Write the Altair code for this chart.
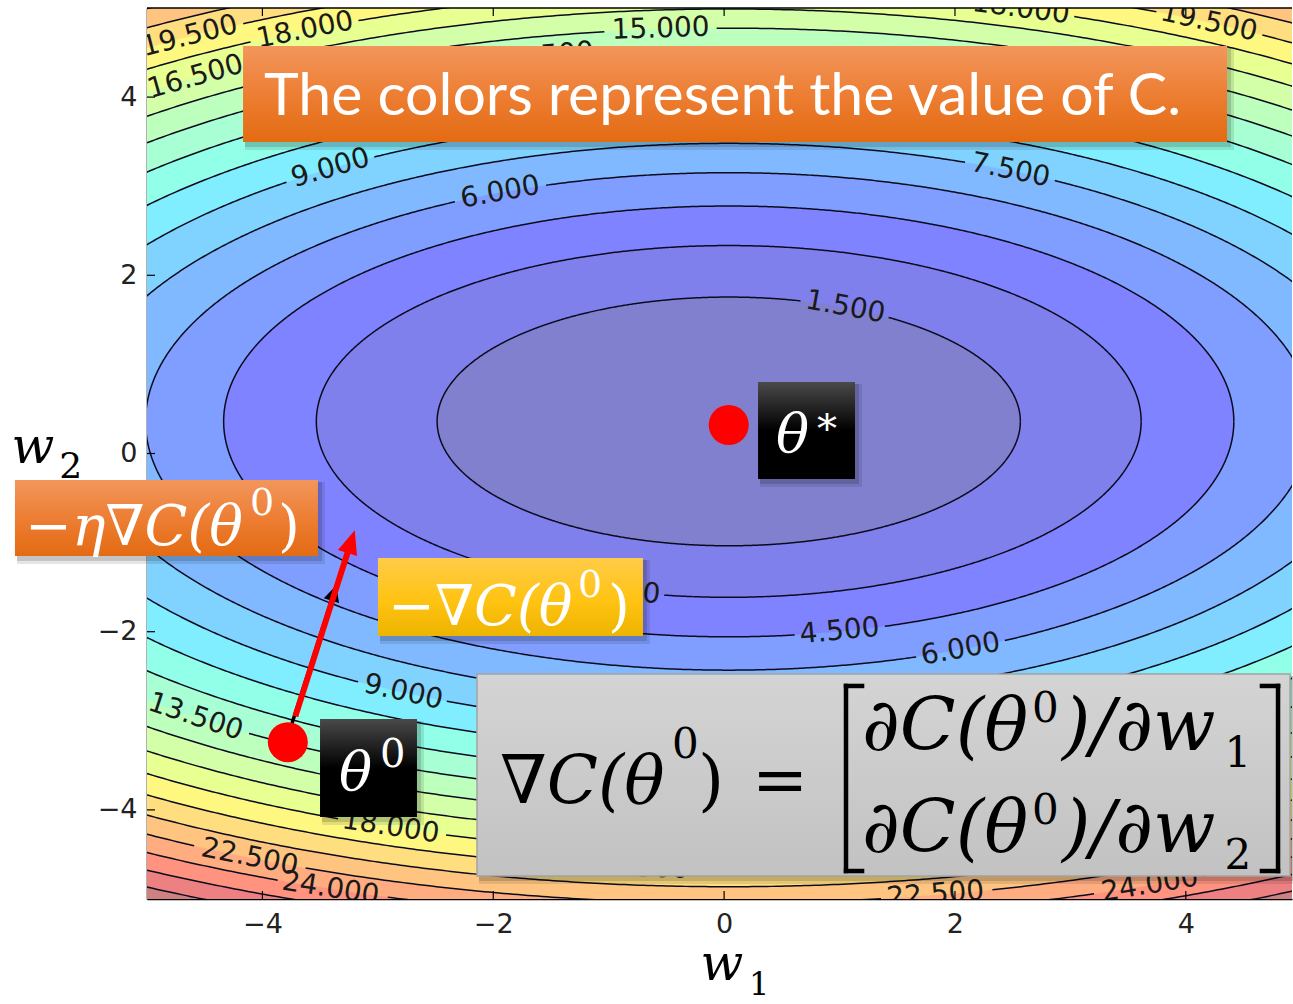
import math
import numpy as np
import pandas as pd
import altair as alt

# Cost surface shown as contours: C(w1, w2) = K1*(w1 - M1)**2 + K2*(w2 - M2)**2
K1, K2 = 0.235, 0.77
M1, M2 = 0.04, 0.36
levels = [1.5, 3.0, 4.5, 6.0, 7.5, 9.0, 10.5, 12.0, 13.5, 15.0, 16.5, 18.0,
          19.5, 21.0, 22.5, 24.0, 25.5, 27.0, 28.5]

# inline contour labels: level, w1 of the label centre, which half of the ring
label_level = [19.5, 18.0, 16.5, 15.0, 13.5, 18.0, 19.5, 9.0, 6.0, 7.5, 1.5,
               3.0, 4.5, 6.0, 9.0, 13.5, 18.0, 22.5, 24.0, 19.5, 22.5, 24.0]
label_w1 = [-4.63, -3.63, -4.58, -0.55, -1.55, 2.57, 4.20, -3.41, -1.94, 2.48, 1.05,
            -0.90, 1.00, 2.05, -2.78, -4.58, -2.89, -4.11, -3.41, -0.73, 1.83, 3.69]
label_half = ["upper"] * 11 + ["lower"] * 11

# points of interest (w1, w2)
theta_star = (0.04, 0.32)
theta_zero = (-3.78, -3.24)
grad_start = (-3.744, -3.03)
grad_tip = (-3.36, -1.48)       # -grad C(theta0)
step_start = (-3.715, -2.95)
eta_grad_tip = (-3.20, -0.86)   # -eta * grad C(theta0)

ticks = [-4, -2, 0, 2, 4]

# ---------------------------------------------------------------- layout
X_DOMAIN = [-5.0, 4.92]
Y_DOMAIN = [-5.0, 5.0]
W, H = 1145, 891
SX = W / (X_DOMAIN[1] - X_DOMAIN[0])
SY = H / (Y_DOMAIN[1] - Y_DOMAIN[0])
XS = alt.Scale(domain=X_DOMAIN, nice=False, zero=False)
YS = alt.Scale(domain=Y_DOMAIN, nice=False, zero=False)
SERIF = "DejaVu Serif"
SANS = "DejaVu Sans"

X_AXIS = alt.Axis(values=ticks, ticks=False, grid=False, domainColor="#000000",
                  domainWidth=1.6, labelFont=SANS, labelFontSize=27, labelColor="#222222",
                  labelPadding=12, labelFlush=False, labelOverlap=False, title=None)
Y_AXIS = alt.Axis(values=ticks, ticks=False, grid=False, domainColor="#000000",
                  domainWidth=1.6, labelFont=SANS, labelFontSize=27, labelColor="#222222",
                  labelPadding=10, labelFlush=False, labelOverlap=False, title=None)


def xq(field):
    return alt.X(field, type="quantitative", scale=XS, axis=X_AXIS, title=None)


def yq(field):
    return alt.Y(field, type="quantitative", scale=YS, axis=Y_AXIS, title=None)


def to_px(w1, w2):
    return (w1 - X_DOMAIN[0]) * SX, (Y_DOMAIN[1] - w2) * SY


def jet_wash(t):
    """jet colour at t, washed 50% towards white."""
    r = np.interp(t, [0, 0.35, 0.66, 0.89, 1], [0, 0, 1, 1, 0.5])
    g = np.interp(t, [0, 0.125, 0.375, 0.64, 0.91, 1], [0, 0, 1, 1, 0, 0])
    b = np.interp(t, [0, 0.11, 0.34, 0.65, 1], [0.5, 1, 1, 0, 0])
    return "#%02x%02x%02x" % tuple(int(round(255 * (0.5 * c + 0.5))) for c in (r, g, b))


layers = []

# ---------------------------------------------------------------- filled bands
top_level = levels[-1]
for k in range(len(levels) - 1, -1, -1):
    L = levels[k]
    lo = levels[k - 1] if k > 0 else 0.0
    ra, rb = math.sqrt(L / K1), math.sqrt(L / K2)
    t = np.linspace(math.pi, 0, 361)
    band = pd.DataFrame({"w1": M1 + ra * np.cos(t),
                         "top": M2 + rb * np.sin(t),
                         "bot": M2 - rb * np.sin(t)})
    layers.append(
        alt.Chart(band).mark_area(color=jet_wash((lo + L) / 2 / top_level), clip=True)
        .encode(x=xq("w1"), y=yq("top"), y2="bot:Q")
    )

# ---------------------------------------------------------------- contour labels
lab_rows = []
for L, w1, half in zip(label_level, label_w1, label_half):
    ra, rb = math.sqrt(L / K1), math.sqrt(L / K2)
    ct = (w1 - M1) / ra
    st = math.sqrt(max(0.0, 1 - ct * ct)) * (1 if half == "upper" else -1)
    w2 = M2 + rb * st
    dpx = -ra * st * SX
    dpy = -(rb * ct) * SY
    ang = math.degrees(math.atan2(dpy, dpx))
    if ang > 90:
        ang -= 180
    if ang <= -90:
        ang += 180
    text = f"{L:.3f}"
    width = (sum(ch.isdigit() for ch in text) * 0.636 + 0.318) * 28
    px, py = to_px(w1, w2)
    lab_rows.append({"level": L, "w1": w1, "w2": w2, "text": text,
                     "ang": ang % 360, "px": px, "py": py, "gap": width / 2 + 4})
labels_df = pd.DataFrame(lab_rows)

# ---------------------------------------------------------------- contour lines
line_rows = []
for L in levels:
    ra, rb = math.sqrt(L / K1), math.sqrt(L / K2)
    t = np.linspace(0, 2 * math.pi, 1441)
    w1 = M1 + ra * np.cos(t)
    w2 = M2 + rb * np.sin(t)
    px, py = to_px(w1, w2)
    keep = (w1 > X_DOMAIN[0] - 0.3) & (w1 < X_DOMAIN[1] + 0.3) & \
           (w2 > Y_DOMAIN[0] - 0.3) & (w2 < Y_DOMAIN[1] + 0.3)
    for r in lab_rows:
        if r["level"] == L:
            keep &= np.hypot(px - r["px"], py - r["py"]) > r["gap"]
    seg, prev = 0, False
    for i in range(len(t)):
        if keep[i]:
            if not prev:
                seg += 1
            line_rows.append({"key": f"{L}-{seg}", "i": i, "w1": w1[i], "w2": w2[i]})
        prev = bool(keep[i])
lines_df = pd.DataFrame(line_rows)

layers.append(
    alt.Chart(lines_df).mark_line(color="#0b0b1e", strokeWidth=1.5, clip=True)
    .encode(x=xq("w1"), y=yq("w2"), detail="key:N", order="i:Q")
)
layers.append(
    alt.Chart(labels_df).mark_text(font=SANS, fontSize=28, color="#1a1a1a",
                                   baseline="middle", align="center", clip=True)
    .encode(x=xq("w1"), y=yq("w2"), text="text:N", angle=alt.Angle("ang:Q", scale=None))
)

# ---------------------------------------------------------------- frame ticks
tick_df = pd.DataFrame({"v": ticks})
for y0, y1 in ((H, H - 8), (0, 8)):
    layers.append(alt.Chart(tick_df).mark_rule(color="#000000", strokeWidth=1.2)
                  .encode(x=xq("v"), y=alt.value(y0), y2=alt.value(y1)))
layers.append(alt.Chart(tick_df).mark_rule(color="#000000", strokeWidth=1.2)
              .encode(y=yq("v"), x=alt.value(0), x2=alt.value(8)))
layers.append(alt.Chart(tick_df.head(1)).mark_rule(color="#000000", strokeWidth=1.6)
              .encode(x=alt.value(0), x2=alt.value(W), y=alt.value(0)))


# ---------------------------------------------------------------- arrows
def arrow(start, tip, color, width, head_len, head_half):
    dx = (tip[0] - start[0]) * SX
    dy = -(tip[1] - start[1]) * SY
    n = math.hypot(dx, dy)
    ux, uy = dx / n, dy / n
    back = head_len * 0.7
    end = (tip[0] - ux * back / SX, tip[1] + uy * back / SY)
    ang = math.degrees(math.atan2(ux, -uy)) % 360
    shaft = pd.DataFrame({"x": [start[0]], "y": [start[1]], "x2": [end[0]], "y2": [end[1]]})
    head = pd.DataFrame({"x": [tip[0]], "y": [tip[1]], "ang": [ang]})
    path = f"M0,0 L{-head_half / head_len:.3f},1 L{head_half / head_len:.3f},1 Z"
    return [
        alt.Chart(shaft).mark_rule(color=color, strokeWidth=width)
        .encode(x=xq("x"), y=yq("y"), x2="x2:Q", y2="y2:Q"),
        alt.Chart(head).mark_point(shape=path, filled=True, color=color, opacity=1,
                                   size=(2 * head_len) ** 2, strokeWidth=0)
        .encode(x=xq("x"), y=yq("y"), angle=alt.Angle("ang:Q", scale=None)),
    ]


layers += arrow(grad_start, grad_tip, "#000000", 3.5, 16, 8)
layers += arrow(step_start, eta_grad_tip, "#ff0000", 6, 24, 10)

dots = pd.DataFrame({"w1": [theta_star[0], theta_zero[0]], "w2": [theta_star[1], theta_zero[1]]})
layers.append(alt.Chart(dots).mark_circle(color="#ff0000", size=1600, opacity=1)
              .encode(x=xq("w1"), y=yq("w2")))


# ---------------------------------------------------------------- annotation panels
def grad(stops):
    return alt.LinearGradient(gradient="linear", x1=0, x2=0, y1=0, y2=1,
                              stops=[alt.GradientStop(color=c, offset=o) for c, o in stops])


def panel(x1, x2, y1, y2, fill, stroke=None):
    df = pd.DataFrame({"x1": [x1], "x2": [x2], "y1": [y1], "y2": [y2]})
    base = alt.Chart(df).encode(x=xq("x1"), x2="x2:Q", y=yq("y1"), y2="y2:Q")
    out = [
        base.mark_rect(color="#000000", opacity=0.10, xOffset=2, x2Offset=7, yOffset=2, y2Offset=8),
        base.mark_rect(color="#000000", opacity=0.14, xOffset=2, x2Offset=4, yOffset=2, y2Offset=5),
    ]
    if stroke:
        out.append(base.mark_rect(fill=fill, stroke=stroke, strokeWidth=1.5))
    else:
        out.append(base.mark_rect(fill=fill))
    return out


def note(text, x, y, size, color, font=SERIF, style="normal", align="left"):
    df = pd.DataFrame({"x": [x], "y": [y], "t": [text]})
    return alt.Chart(df).mark_text(align=align, baseline="alphabetic", font=font,
                                   fontSize=size, fontStyle=style, color=color) \
        .encode(x=xq("x"), y=yq("y"), text="t:N")


ORANGE = grad([("#f3965c", 0), ("#ec7c30", 0.55), ("#e36b12", 1)])
BLACK = grad([("#4a4a4a", 0), ("#000000", 0.5), ("#000000", 1)])
YELLOW = grad([("#ffcc48", 0), ("#ffc312", 0.55), ("#edb400", 1)])
GREY = grad([("#d4d4d4", 0), ("#c2c2c2", 1)])

# title
layers += panel(-4.168, 4.357, 4.574, 3.496, ORANGE)
layers.append(note("The colors represent the value of C.", -0.014, 3.80, 59, "#ffffff",
                   font="Lato", align="center"))

# theta* marker label
layers += panel(0.294, 1.134, 0.803, -0.286, BLACK)
layers.append(note("θ", 0.450, 0.017, 55, "#ffffff", style="italic"))
layers.append(note("*", 0.805, 0.129, 40, "#ffffff"))

# theta0 marker label
layers += panel(-3.501, -2.661, -2.980, -4.080, BLACK)
layers.append(note("θ", -3.337, -3.777, 55, "#ffffff", style="italic"))
layers.append(note("0", -2.981, -3.519, 40, "#ffffff"))

# -eta grad C(theta0)
layers += panel(-6.144, -3.519, -0.297, -1.150, ORANGE)
layers.append(note("−η∇C(θ", -6.057, -1.027, 56, "#ffffff", style="italic"))
layers.append(note("0", -4.108, -0.690, 38, "#ffffff"))
layers.append(note(")", -3.865, -1.027, 56, "#ffffff"))

# -grad C(theta0)
layers += panel(-2.999, -0.703, -1.173, -2.048, YELLOW)
layers.append(note("−∇C(θ", -2.912, -1.925, 56, "#ffffff", style="italic"))
layers.append(note("0", -1.266, -1.611, 38, "#ffffff"))
layers.append(note(")", -1.006, -1.925, 56, "#ffffff"))

# gradient definition
layers += panel(-2.141, 4.903, -2.475, -4.742, GREY, stroke="#a3a3a3")
layers.append(note("∇C(θ", -1.942, -3.923, 67, "#000000", style="italic"))
layers.append(note("0", -0.451, -3.418, 42, "#000000"))
layers.append(note(")", -0.226, -3.923, 67, "#000000"))
layers.append(note("=", 0.242, -3.923, 67, "#000000"))
for row_base, sup_base, sub_base, sub in ((-3.328, -3.014, -3.519, "1"),
                                          (-4.473, -4.158, -4.663, "2")):
    layers.append(note("∂C(θ", 1.195, row_base, 73, "#000000", style="italic"))
    layers.append(note("0", 2.667, sup_base, 42, "#000000"))
    layers.append(note(")/∂w", 2.928, row_base, 73, "#000000", style="italic"))
    layers.append(note(sub, 4.335, sub_base, 42, "#000000"))

brackets = pd.DataFrame({
    "x": [1.056, 1.056, 1.056, 4.799, 4.799, 4.799],
    "x2": [1.056, 1.195, 1.195, 4.799, 4.660, 4.660],
    "y": [-2.609, -2.609, -4.686, -2.609, -2.609, -4.686],
    "y2": [-4.686, -2.609, -4.686, -4.686, -2.609, -4.686],
})
layers.append(alt.Chart(brackets).mark_rule(color="#000000", strokeWidth=4.5, strokeCap="square")
              .encode(x=xq("x"), x2="x2:Q", y=yq("y"), y2="y2:Q"))

# axis names
layers.append(note("w", -0.205, -5.905, 50, "#000000", style="italic"))
layers.append(note("1", 0.215, -6.075, 32, "#000000"))
layers.append(note("w", -6.175, -0.107, 50, "#000000", style="italic"))
layers.append(note("2", -5.760, -0.275, 36, "#000000"))

chart = alt.layer(*layers).properties(
    width=W, height=H,
    padding={"left": 147, "top": 8, "right": 1, "bottom": 105},
    autosize=alt.AutoSizeParams(type="none"),
).configure_view(stroke=None)

chart.save("out.html", embed_options={"renderer": "svg", "actions": False})
